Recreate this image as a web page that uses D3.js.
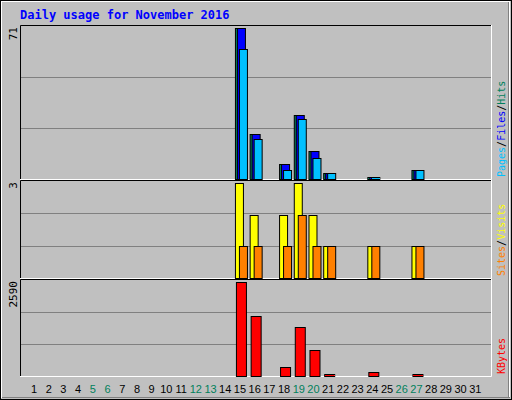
<!DOCTYPE html>
<html><head><meta charset="utf-8">
<script src="https://cdn.jsdelivr.net/npm/d3@7"></script>
<style>body{margin:0;background:#fff}</style>
</head><body>
<script>
// daily figures, November 2016
var days = d3.range(1, 32);
var weekend = [5, 6, 12, 13, 19, 20, 26, 27];
var hits   = {15:71, 16:21, 18:7, 19:30, 20:13, 21:3, 24:1, 27:4};
var files  = {15:71, 16:21, 18:7, 19:30, 20:13, 21:3, 24:1, 27:4};
var pages  = {15:61, 16:19, 18:4, 19:28, 20:10, 21:3, 24:1, 27:4};
var visits = {15:3, 16:2, 18:2, 19:3, 20:2, 21:1, 24:1, 27:1};
var sites  = {15:1, 16:1, 18:1, 19:2, 20:1, 21:1, 24:1, 27:1};
var kbytes = {15:2590, 16:1650, 18:256, 19:1337, 20:711, 21:57, 24:114, 27:57};

var W = 512, H = 400, mono = "'DejaVu Sans Mono', monospace";
var svg = d3.select("body").append("svg").attr("width", W).attr("height", H);
svg.append("rect").attr("width", W).attr("height", H).attr("fill", "#c0c0c0");
svg.append("rect").attr("x", 0.5).attr("y", 0.5).attr("width", W - 1).attr("height", H - 1)
  .attr("fill", "none").attr("stroke", "#000");
svg.append("rect").attr("x", 1.5).attr("y", 1.5).attr("width", W - 4).attr("height", H - 4)
  .attr("fill", "none").attr("stroke", "#fff");
svg.append("line").attr("x1", 2).attr("x2", W - 2).attr("y1", 397.5).attr("y2", 397.5).attr("stroke", "#808080");
svg.append("line").attr("x1", W - 3.5).attr("x2", W - 3.5).attr("y1", 2).attr("y2", 398).attr("stroke", "#808080");

svg.append("text").text("Daily usage for November 2016").attr("x", 20).attr("y", 19)
  .attr("fill", "#0000ff").attr("font-weight", "bold").attr("font-size", 12).attr("font-family", mono);

var x = d3.scaleBand().domain(days).range([29, 485]);

function panel(y0, y1, max, label, legend, series) {
  var y = d3.scaleLinear().domain([0, max]).range([y1 - 1, y0 + 3]);
  var g = svg.append("g");
  g.append("rect").attr("x", 20).attr("y", y0).attr("width", 472).attr("height", y1 - y0).attr("fill", "#c0c0c0");
  [1, 2].forEach(function (i) {
    var gy = Math.round(y1 - (y1 - y0) * i / 3) + 0.5;
    g.append("line").attr("x1", 21).attr("x2", 491).attr("y1", gy).attr("y2", gy).attr("stroke", "#808080");
  });
  g.append("path").attr("d", "M20.5," + y1 + "V" + (y0 + 0.5) + "H491").attr("fill", "none").attr("stroke", "#000");
  g.append("path").attr("d", "M20," + (y1 - 0.5) + "H491.5V" + y0).attr("fill", "none").attr("stroke", "#fff");
  g.append("text").text(label).attr("transform", "translate(17," + (y0 + 2) + ") rotate(-90)")
    .attr("text-anchor", "end").attr("font-size", 11).attr("font-family", mono);
  var t = g.append("text").attr("transform", "translate(505," + (y1 - 3) + ") rotate(-90)")
    .attr("font-size", 10).attr("font-family", mono);
  legend.forEach(function (l, i) {
    if (i) t.append("tspan").text("/").attr("fill", "#000");
    t.append("tspan").text(l[0]).attr("fill", l[1]);
  });
  series.forEach(function (s) {
    g.selectAll(null).data(days.filter(function (d) { return s.data[d]; })).enter().append("rect")
      .attr("x", function (d) { return x(d) + s.off + 0.5; })
      .attr("y", function (d) { return Math.round(y(s.data[d])) + 0.5; })
      .attr("width", s.w)
      .attr("height", function (d) { return y(0) - Math.round(y(s.data[d])); })
      .attr("fill", s.color).attr("stroke", "#000");
  });
}

panel(25, 180, 71, "71", [["Pages", "#00c0ff"], ["Files", "#0000ff"], ["Hits", "#00805c"]], [
  {data: hits, color: "#00805c", off: 0, w: 8},
  {data: files, color: "#0000ff", off: 2, w: 8},
  {data: pages, color: "#00c0ff", off: 4, w: 8}
]);
panel(180, 279, 3, "3", [["Sites", "#ff8000"], ["Visits", "#ffff00"]], [
  {data: visits, color: "#ffff00", off: 0, w: 8},
  {data: sites, color: "#ff8000", off: 4, w: 8}
]);
panel(279, 377, 2590, "2590", [["KBytes", "#ff0000"]], [
  {data: kbytes, color: "#ff0000", off: 1, w: 10}
]);

svg.append("g").selectAll("text").data(days).enter().append("text")
  .text(function (d) { return d; })
  .attr("x", function (d) { return x(d) + 5; })
  .attr("y", 393).attr("text-anchor", "middle")
  .attr("font-size", 11).attr("font-family", "'Liberation Sans', sans-serif")
  .attr("fill", function (d) { return weekend.indexOf(d) >= 0 ? "#00805c" : "#000"; });
</script>
</body></html>
